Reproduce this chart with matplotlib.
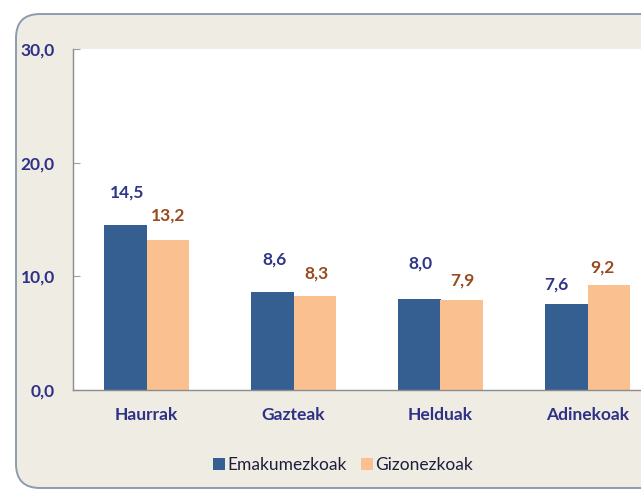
import matplotlib
matplotlib.use("Agg")
import matplotlib.pyplot as plt
from matplotlib.patches import FancyBboxPatch, Patch
import numpy as np

categories = ["Haurrak", "Gazteak", "Helduak", "Adinekoak"]
emakumezkoak = [14.5, 8.6, 8.0, 7.6]
gizonezkoak = [13.2, 8.3, 7.9, 9.2]
series_names = ["Emakumezkoak", "Gizonezkoak"]
yticks = [0, 10, 20, 30]
ytick_labels = ["0,0", "10,0", "20,0", "30,0"]

# label offsets in pixels (dx, dy) relative to bar top centre (layout only)
off_w = [(2, 33), (2, 33), (1, 36), (-10, 19)]
off_m = [(1, 24), (2, 22), (1, 20), (-6, 18)]

W, H = 641, 491
DPI = 100
plt.rcParams['font.family'] = ['Lato', 'DejaVu Sans']

fig = plt.figure(figsize=(W / DPI, H / DPI), dpi=DPI)
fig.patch.set_facecolor("white")

# background panel
bg = fig.add_axes([0, 0, 1, 1], zorder=0)
bg.set_xlim(0, W)
bg.set_ylim(H, 0)
bg.axis("off")
panel = FancyBboxPatch((16, 14), 700, 474, boxstyle="round,pad=0,rounding_size=24",
                       facecolor="#EEECE3", edgecolor="#8C9CB0", linewidth=1.4)
bg.add_patch(panel)

left, right, top, bottom = 73, 661, 49, 390
ax = fig.add_axes([left / W, (H - bottom) / H, (right - left) / W, (bottom - top) / H], zorder=1)
ax.set_facecolor("white")

blue = "#365F91"
orange = "#FAC090"
blue_txt = "#2F3587"
orange_txt = "#984A1E"
tick_col = "#2F3187"
fs = 12.5

x = np.arange(len(categories))
bw = 0.286
ax.bar(x - bw / 2, emakumezkoak, bw, color=blue, zorder=2)
ax.bar(x + bw / 2, gizonezkoak, bw, color=orange, zorder=2)

ax.set_xlim(-0.5, len(categories) - 0.5)
ax.set_ylim(0, 30)
ax.set_yticks(yticks)
ax.set_yticklabels(ytick_labels, color=tick_col, fontsize=fs, fontweight="bold")
ax.tick_params(axis="y", direction="in", length=5, color="#A0A0A0", pad=13)
ax.set_xticks(x)
ax.set_xticklabels(categories, color=tick_col, fontsize=fs, fontweight="bold")
ax.tick_params(axis="x", length=0, pad=12)
for s in ["top", "right"]:
    ax.spines[s].set_visible(False)
for s in ["left", "bottom"]:
    ax.spines[s].set_color("#8C8C8C")
    ax.spines[s].set_linewidth(1.0)

px = 72 / DPI
for i, (v, (dx, dy)) in enumerate(zip(emakumezkoak, off_w)):
    ax.annotate(f"{v:.1f}".replace(".", ","), (x[i] - bw / 2, v),
                xytext=(dx * px, dy * px), textcoords="offset points",
                ha="center", va="center", color=blue_txt, fontsize=fs, fontweight="bold")
for i, (v, (dx, dy)) in enumerate(zip(gizonezkoak, off_m)):
    ax.annotate(f"{v:.1f}".replace(".", ","), (x[i] + bw / 2, v),
                xytext=(dx * px, dy * px), textcoords="offset points",
                ha="center", va="center", color=orange_txt, fontsize=fs, fontweight="bold")

handles = [Patch(facecolor=blue), Patch(facecolor=orange)]
leg = fig.legend(handles, series_names, loc="center", bbox_to_anchor=(343 / W, 1 - 465 / H),
                 ncol=2, frameon=False, fontsize=12.5, handlelength=0.7, handleheight=0.7,
                 handletextpad=0.15, columnspacing=0.8)
for t in leg.get_texts():
    t.set_color("#1E1E3C")

fig.savefig("out.png", dpi=DPI)
